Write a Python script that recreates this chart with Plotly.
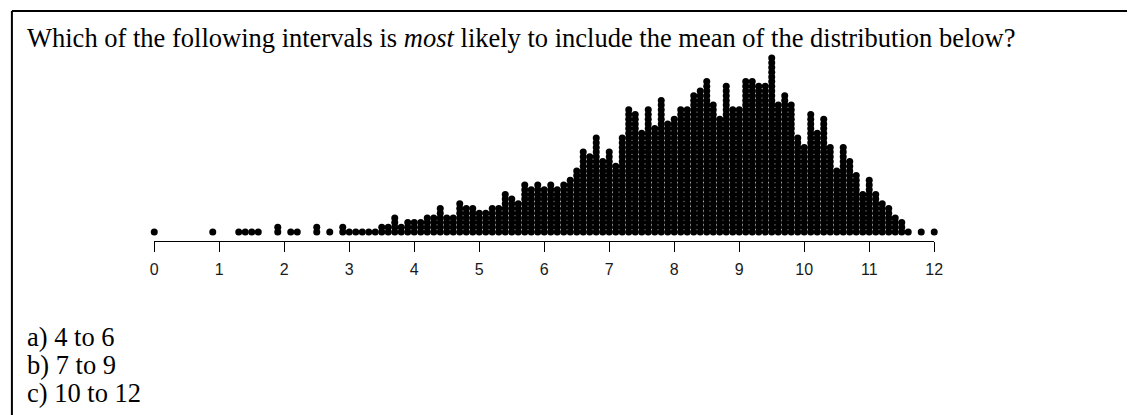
import numpy as np
import plotly.graph_objects as go

# Dot-plot data: value bins (step 0.1) and number of stacked dots in each bin
bin_values = [round(0.1 * i, 1) for i in range(121)]
dot_counts = [
    # 0.0 - 0.9
    1, 0, 0, 0, 0, 0, 0, 0, 0, 1,
    # 1.0 - 1.9
    0, 0, 0, 1, 1, 1, 1, 0, 0, 2,
    # 2.0 - 2.9
    0, 1, 1, 0, 0, 2, 0, 1, 0, 2,
    # 3.0 - 3.9
    1, 1, 1, 1, 1, 2, 2, 4, 2, 3,
    # 4.0 - 4.9
    3, 3, 4, 4, 6, 4, 4, 7, 6, 6,
    # 5.0 - 5.9
    5, 5, 6, 6, 9, 8, 7, 11, 10, 11,
    # 6.0 - 6.9
    10, 11, 10, 11, 12, 14, 18, 17, 21, 16,
    # 7.0 - 7.9
    18, 15, 21, 27, 26, 22, 27, 23, 29, 24,
    # 8.0 - 8.9
    25, 27, 27, 30, 31, 33, 28, 25, 32, 27,
    # 9.0 - 9.9
    27, 33, 33, 32, 32, 38, 28, 30, 28, 21,
    # 10.0 - 10.9
    19, 26, 22, 25, 19, 14, 19, 16, 13, 9,
    # 11.0 - 11.9
    12, 9, 7, 6, 4, 3, 1, 0, 1, 0,
    # 12.0
    1,
]

tick_values = list(range(13))
tick_labels = [str(v) for v in tick_values]

question = ("Which of the following intervals is <i>most</i> likely to include "
            "the mean of the distribution below?")
choices = ["a) 4 to 6", "b) 7 to 9", "c) 10 to 12"]

W, H = 1136, 415

# stack the dots: the k-th dot of a bin sits at height k
xs, ys = [], []
for v, c in zip(bin_values, dot_counts):
    for k in range(1, c + 1):
        xs.append(v)
        ys.append(k)

# pixel layout of the strip
x_left_px, x_right_px = 152, 941      # positions of 0 and 12
axis_px = 241                         # axis line, from top
base_px = 232                         # centre of the first dot, from top
step_px = 4.7                         # vertical distance between stacked dots

y_span = H / step_px
y_min = 1 - (H - base_px) / step_px
y_max = y_min + y_span

fig = go.Figure()
fig.add_trace(go.Scatter(
    x=xs, y=ys, mode="markers",
    marker=dict(size=7, color="black", line=dict(width=0)),
    cliponaxis=False, hoverinfo="skip", showlegend=False,
))

fig.update_layout(
    width=W, height=H,
    margin=dict(l=0, r=0, t=0, b=0, pad=0),
    paper_bgcolor="white", plot_bgcolor="white",
    xaxis=dict(
        domain=[x_left_px / W, x_right_px / W],
        range=[0, 12], anchor="free", position=(H - axis_px) / H,
        showgrid=False, zeroline=False,
        showline=True, linecolor="black", linewidth=1,
        ticks="outside", ticklen=10, tickwidth=1, tickcolor="black",
        tickvals=tick_values, ticktext=tick_labels,
        tickfont=dict(family="Liberation Sans, Arial", size=16, color="#1a1a1a"),
        ticklabelstandoff=4,
    ),
    yaxis=dict(
        domain=[0, 1], range=[y_min, y_max],
        visible=False, showgrid=False, zeroline=False,
    ),
)

serif = dict(family="Liberation Serif, Times New Roman", size=26.5, color="black")

fig.add_annotation(
    text=question, xref="paper", yref="paper",
    x=21 / W, y=1 - 38 / H, xanchor="left", yanchor="middle",
    showarrow=False, font=serif,
)
for i, txt in enumerate(choices):
    fig.add_annotation(
        text=txt, xref="paper", yref="paper",
        x=21 / W, y=1 - (337 + 28 * i) / H, xanchor="left", yanchor="middle",
        showarrow=False, font=serif,
    )

# frame lines along the top and the left
fig.add_shape(type="line", xref="paper", yref="paper",
              x0=8 / W, x1=1, y0=1 - 11 / H, y1=1 - 11 / H,
              line=dict(color="black", width=2))
fig.add_shape(type="line", xref="paper", yref="paper",
              x0=8 / W, x1=8 / W, y0=0, y1=1 - 11 / H,
              line=dict(color="black", width=2))

fig.write_html("out.html")
